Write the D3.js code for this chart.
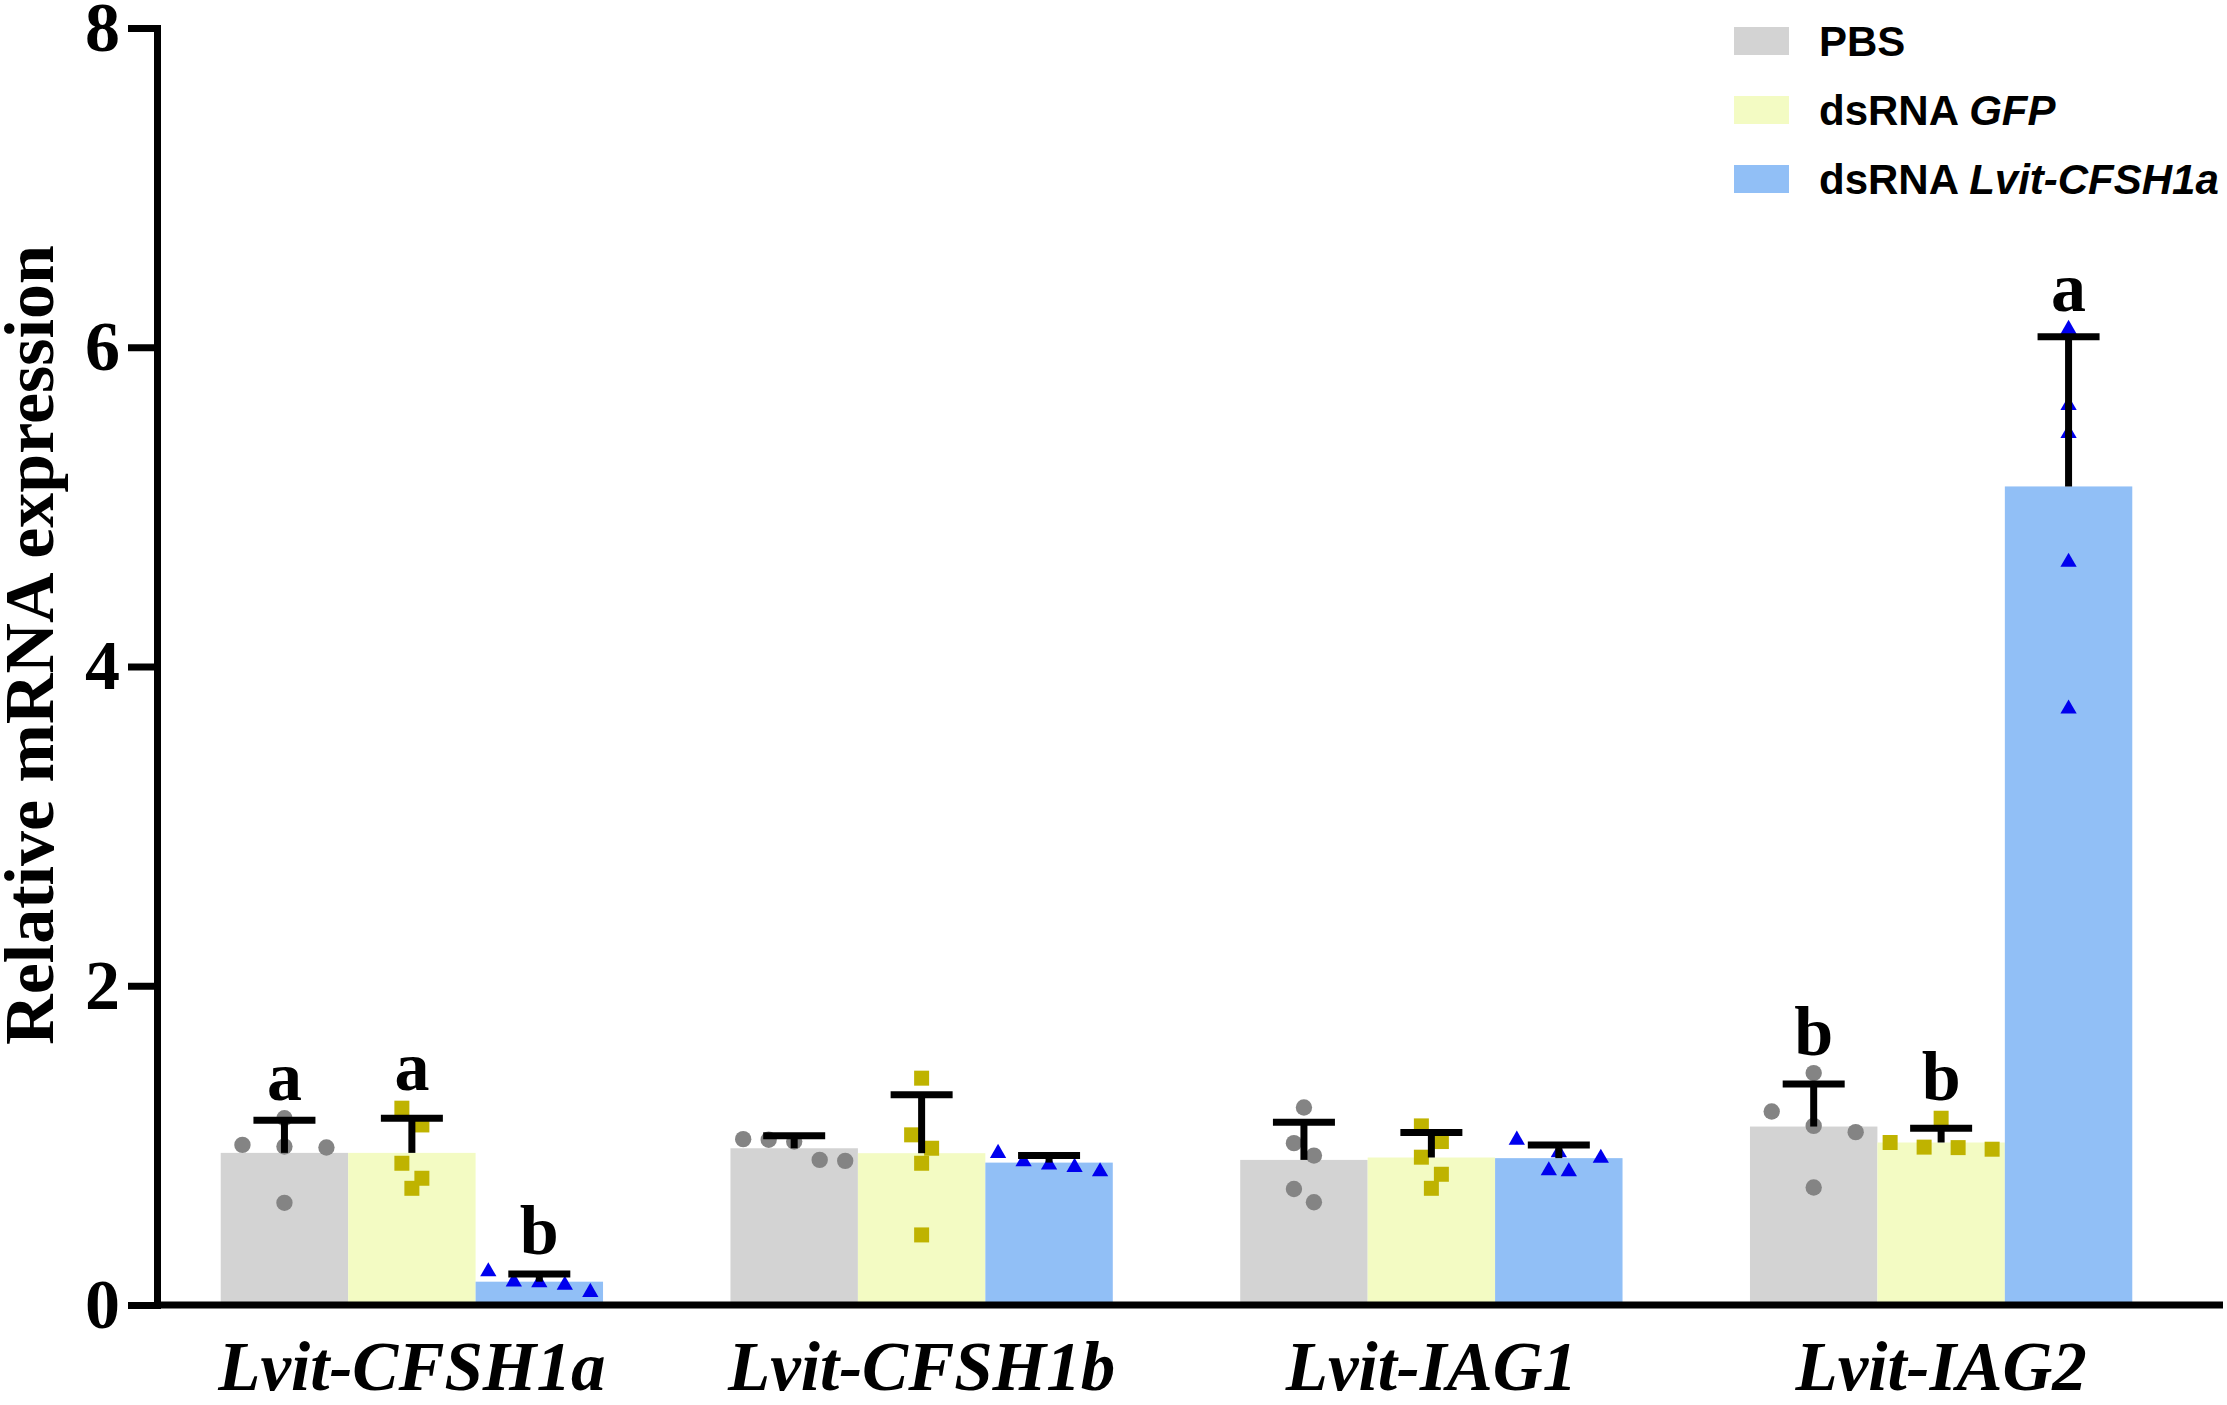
<!DOCTYPE html>
<html>
<head>
<meta charset="utf-8">
<script src="https://cdn.jsdelivr.net/npm/d3@7"></script>
<style>
	body { margin: 0; background: #fff; }
</style>
</head>
<body>
<script>
// genes on the x axis and the three treatment groups
const genes = ["Lvit-CFSH1a", "Lvit-CFSH1b", "Lvit-IAG1", "Lvit-IAG2"];
const groupKeys = ["pbs", "gfp", "ds"];
const yTicks = [0, 2, 4, 6, 8];

// bar heights (mean) and SD
const pbsMean = [0.953, 0.982, 0.909, 1.118];
const pbsSD = [0.204, 0.078, 0.236, 0.266];
const gfpMean = [0.953, 0.951, 0.924, 1.018];
const gfpSD = [0.217, 0.366, 0.156, 0.090];
const dsMean = [0.146, 0.892, 0.920, 5.128];
const dsSD = [0.048, 0.044, 0.083, 0.937];

// individual replicates
const pbsPoints = [
	[1.170, 1.003, 0.993, 0.987, 0.640],
	[1.039, 1.035, 1.024, 0.909, 0.903],
	[1.237, 1.014, 0.936, 0.727, 0.644],
	[1.453, 1.212, 1.122, 1.083, 0.736]
];
const gfpPoints = [
	[1.233, 1.128, 0.888, 0.794, 0.731],
	[1.421, 1.066, 0.982, 0.888, 0.439],
	[1.122, 1.024, 0.926, 0.819, 0.731],
	[1.170, 1.018, 0.989, 0.986, 0.976]
];
const dsPoints = [
	[0.209, 0.146, 0.140, 0.125, 0.080],
	[0.951, 0.898, 0.878, 0.863, 0.836],
	[1.034, 0.955, 0.920, 0.842, 0.836],
	[6.113, 5.636, 5.461, 4.654, 3.735]
];

// significance letters
const pbsLetters = ["a", "", "", "b"];
const gfpLetters = ["a", "", "", "b"];
const dsLetters = ["b", "", "", "a"];

const series = {
	pbs: {mean: pbsMean, sd: pbsSD, pts: pbsPoints, letters: pbsLetters,
		fill: "#d3d3d3", dot: "#848484", symbol: d3.symbolCircle, size: 210},
	gfp: {mean: gfpMean, sd: gfpSD, pts: gfpPoints, letters: gfpLetters,
		fill: "#f3fbc3", dot: "#bfb300", symbol: d3.symbolSquare, size: 225},
	ds: {mean: dsMean, sd: dsSD, pts: dsPoints, letters: dsLetters,
		fill: "#91bff6", dot: "#0000ee", symbol: d3.symbolTriangle, size: 115}
};

const W = 2227, H = 1405;
const serif = "'Liberation Serif', 'Times New Roman', serif";
const sans = "'Liberation Sans', Arial, sans-serif";

const svg = d3.select("body").append("svg")
	.attr("width", W)
	.attr("height", H);

const y = d3.scaleLinear().domain([0, 8]).range([1305, 28]);
const x0 = d3.scaleBand().domain(genes).range([157, 2196])
	.paddingInner(0.25).paddingOuter(0.125);
const x1 = d3.scaleBand().domain(groupKeys).range([0, x0.bandwidth()]);

// spread replicates sideways like GraphPad does (rows of near-equal values)
function layoutPoints(vals) {
	let sorted = vals.map(v => ({v: v, py: y(v)})).sort((a, b) => a.py - b.py);
	let out = [];
	let i = 0;
	while (i < sorted.length) {
		let row = [sorted[i]];
		let j = i + 1;
		while (j < sorted.length && sorted[j].py - sorted[i].py <= 22) {
			row.push(sorted[j]);
			j++;
		}
		let n = row.length;
		let step = n === 2 ? 20 : Math.min(42, 102 / Math.max(1, n - 1));
		row.forEach((p, k) => out.push({v: p.v, py: p.py, dx: (k - (n - 1) / 2) * step}));
		i = j;
	}
	return out;
}

let gGenes = svg.selectAll('.gene')
	.data(genes)
	.enter().append('g')
	.attr('class', 'gene')
	.attr('transform', d => `translate(${x0(d)},0)`);

// bars
gGenes.each(function(gene, gi) {
	let g = d3.select(this);
	groupKeys.forEach(function(k) {
		let s = series[k];
		g.append('rect')
			.attr('x', x1(k))
			.attr('y', y(s.mean[gi]))
			.attr('width', x1.bandwidth())
			.attr('height', y(0) - y(s.mean[gi]))
			.style('fill', s.fill);
	});
});

// points, error bars, letters
gGenes.each(function(gene, gi) {
	let g = d3.select(this);
	groupKeys.forEach(function(k) {
		let s = series[k];
		let cx = x1(k) + x1.bandwidth() / 2;
		let pts = layoutPoints(s.pts[gi]);
		g.selectAll(null)
			.data(pts)
			.enter().append('path')
			.attr('d', d3.symbol().type(s.symbol).size(s.size))
			.attr('transform', d => `translate(${cx + d.dx},${d.py})`)
			.style('fill', s.dot);
	});
	groupKeys.forEach(function(k) {
		let s = series[k];
		let cx = x1(k) + x1.bandwidth() / 2;
		let top = y(s.mean[gi] + s.sd[gi]);
		g.append('line')
			.attr('x1', cx).attr('x2', cx)
			.attr('y1', y(s.mean[gi])).attr('y2', top)
			.style('stroke', '#000').style('stroke-width', 7);
		g.append('line')
			.attr('x1', cx - 31).attr('x2', cx + 31)
			.attr('y1', top).attr('y2', top)
			.style('stroke', '#000').style('stroke-width', 7);
		if (s.letters[gi]) {
			let highest = Math.min(top - 3.5, y(d3.max(s.pts[gi])) - 8);
			g.append('text')
				.attr('x', cx)
				.attr('y', highest - 10)
				.attr('text-anchor', 'middle')
				.text(s.letters[gi])
				.style('font-family', serif)
				.style('font-weight', 'bold')
				.style('font-size', '70px');
		}
	});
});

// y axis
let yAxis = svg.append('g')
	.attr('transform', 'translate(157,0)')
	.call(d3.axisLeft(y).tickValues(yTicks).tickSize(29).tickSizeOuter(0).tickPadding(8));
yAxis.select('.domain').style('stroke-width', 7).style('stroke-linecap', 'square');
yAxis.selectAll('.tick line').style('stroke-width', 7);
yAxis.selectAll('.tick text')
	.style('font-family', serif)
	.style('font-weight', 'bold')
	.style('font-size', '70px')
	.style('fill', '#000');

// x axis
let xAxis = svg.append('g')
	.attr('transform', `translate(0,${y(0)})`)
	.call(d3.axisBottom(x0).tickSize(0).tickPadding(36));
xAxis.select('.domain').remove();
xAxis.selectAll('.tick text')
	.style('font-family', serif)
	.style('font-weight', 'bold')
	.style('font-style', 'italic')
	.style('font-size', '69px')
	.style('fill', '#000');
svg.append('line')
	.attr('x1', 157).attr('x2', 2223)
	.attr('y1', y(0)).attr('y2', y(0))
	.style('stroke', '#000').style('stroke-width', 7);

// y title
svg.append('text')
	.attr('transform', 'rotate(-90)')
	.attr('x', -645)
	.attr('y', 53)
	.attr('text-anchor', 'middle')
	.text('Relative mRNA expression')
	.style('font-family', serif)
	.style('font-weight', 'bold')
	.style('font-size', '70px');

// legend
const legendItems = [
	{key: 'pbs', plain: 'PBS', ital: ''},
	{key: 'gfp', plain: 'dsRNA ', ital: 'GFP'},
	{key: 'ds', plain: 'dsRNA ', ital: 'Lvit-CFSH1a'}
];
let legend = svg.selectAll('.legend')
	.data(legendItems)
	.enter().append('g')
	.attr('class', 'legend')
	.attr('transform', (d, i) => `translate(1734,${27 + i * 69})`);
legend.append('rect')
	.attr('width', 55)
	.attr('height', 28)
	.style('fill', d => series[d.key].fill);
let lt = legend.append('text')
	.attr('x', 85)
	.attr('y', 29)
	.style('font-family', sans)
	.style('font-weight', 'bold')
	.style('font-size', '42px');
lt.append('tspan').text(d => d.plain);
lt.append('tspan').style('font-style', 'italic').text(d => d.ital);
</script>
</body>
</html>
